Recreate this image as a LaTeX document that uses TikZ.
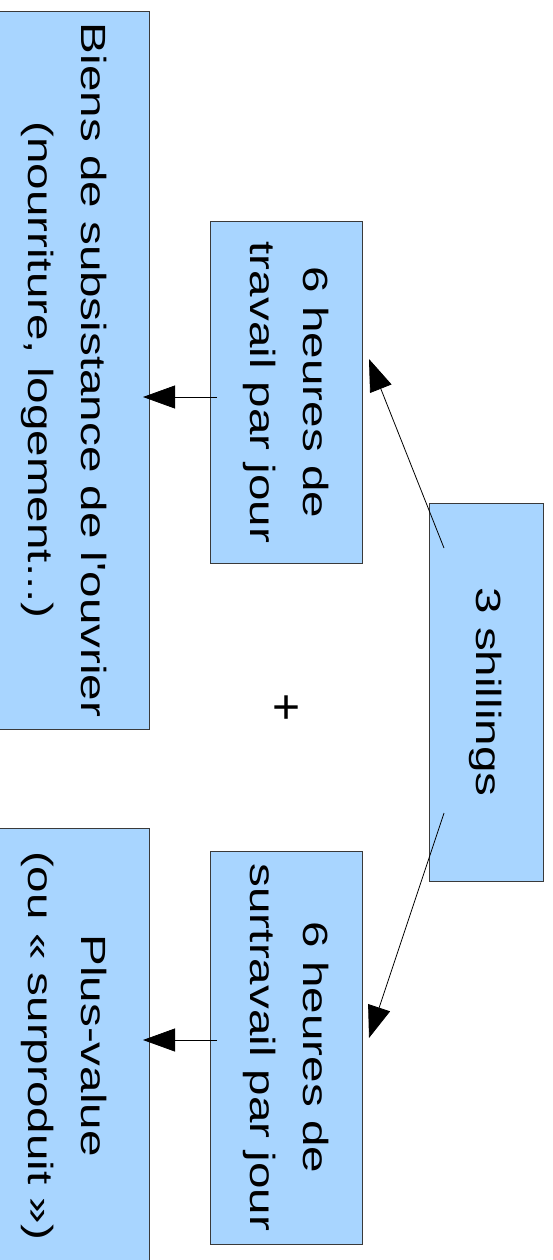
\documentclass[tikz,border=0pt]{standalone}
\usepackage{fontspec}
\setmainfont{Liberation Sans}
\usepackage{xcolor}
\usepackage{tikz}
\usetikzlibrary{arrows.meta,calc}
\definecolor{boxblue}{HTML}{A8D5FF}
\definecolor{edgegray}{HTML}{3A3A3A}
\definecolor{blackmain}{HTML}{000000}
\tikzset{every node/.append style={font=\fontsize{35}{53}\selectfont},
  box/.style={draw=edgegray,fill=boxblue,line width=0.8pt,rotate=-90,xscale=1.36,
    align=center,inner sep=0pt}}

\begin{document}
\begin{tikzpicture}[x=1pt,y=-1pt,>={Triangle[length=32pt,width=23pt]}]
  \useasboundingbox (0,0) rectangle (552,1260);
  \node[box,minimum width=528pt,minimum height=169pt] (biens) at (64.5,370)
    {Biens de subsistance de l\textquotesingle ouvrier\\(nourriture, logement...)};
  \node[box,minimum width=320pt,minimum height=169pt] (plusvalue) at (64.5,1045.6)
    {Plus-value\\(ou «~surproduit~»)};
  \node[box,minimum width=251pt,minimum height=152pt] (travail) at (286,392.5)
    {6 heures de\\travail par jour};
  \node[box,minimum width=289pt,minimum height=152pt] (surtravail) at (286,1047.5)
    {6 heures de\\surtravail par jour};
  \node[box,minimum width=278pt,minimum height=114pt] (shillings) at (486,692)
    {3 shillings};
  \node[font=\fontsize{48}{50}\selectfont] (plus) at (287,710) {+};
  \draw[->,blackmain,line width=0.8pt] ($(shillings.center)+(-42,-144)$) -- ($(travail.center)+(83,-33.5)$);
  \draw[->,blackmain,line width=0.8pt] ($(shillings.center)+(-42,121)$) -- ($(surtravail.center)+(83,-9.5)$);
  \draw[->,blackmain,line width=0.8pt] ($(travail.center)+(-69,4.5)$) -- ($(biens.center)+(78.5,27)$);
  \draw[->,blackmain,line width=0.8pt] ($(surtravail.center)+(-69,-7.5)$) -- ($(plusvalue.center)+(78.5,-5.6)$);
\end{tikzpicture}
\end{document}
